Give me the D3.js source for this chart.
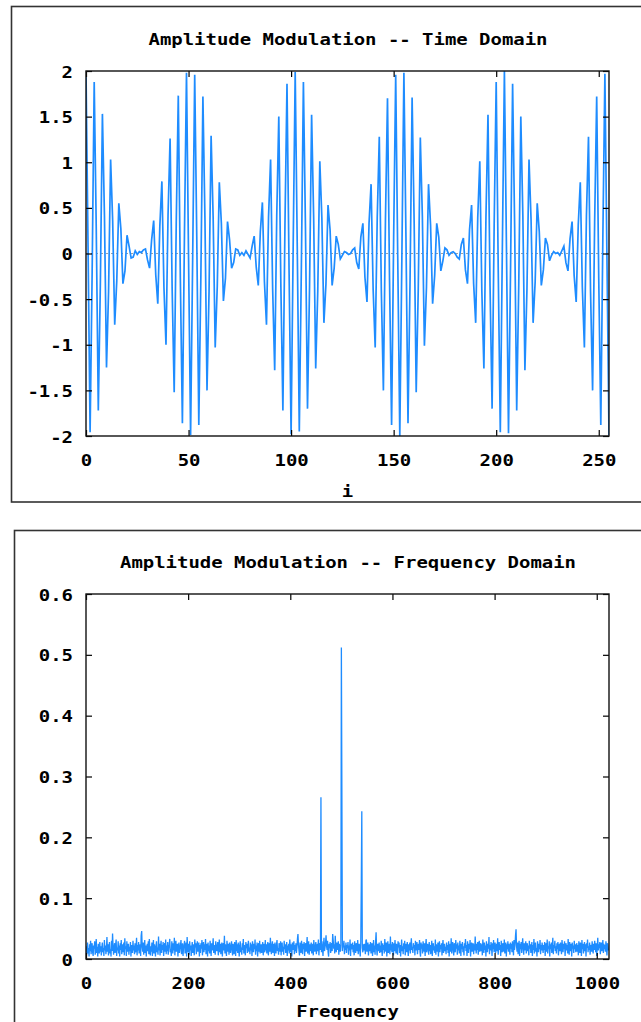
<!DOCTYPE html>
<html><head><meta charset="utf-8">
<script src="https://cdn.jsdelivr.net/npm/d3@7"></script>
<style>
body{margin:0;background:#fff}
text{font-family:"DejaVu Sans Mono","Liberation Mono",monospace;font-weight:bold;fill:#000}
</style>
</head><body>
<svg id="c" width="641" height="1022"></svg>
<script>
// ---------- data ----------
const timeSignal = [
 2.00, 0.07,-1.96,-0.20, 1.88, 0.27,-1.72,-0.33, 1.53, 0.41,-1.25,-0.42, 1.03, 0.36,-0.78,-0.30,
 0.55, 0.27,-0.33,-0.19, 0.20, 0.08,-0.05,-0.04, 0.03,-0.01, 0.02, 0.01, 0.04, 0.05,-0.07,-0.16,
 0.15, 0.36,-0.23,-0.55, 0.30, 0.79,-0.37,-1.00, 0.42, 1.26,-0.38,-1.52, 0.33, 1.73,-0.27,-1.86,
 0.20, 1.98,-0.04,-1.99,-0.07, 1.96, 0.19,-1.88,-0.26, 1.72, 0.37,-1.50,-0.41, 1.29, 0.39,-1.03,
-0.36, 0.78, 0.33,-0.52,-0.27, 0.35, 0.15,-0.16,-0.10, 0.05, 0.04,-0.02, 0.01,-0.02, 0.03,-0.01,
-0.05, 0.08, 0.19,-0.15,-0.35, 0.24, 0.56,-0.31,-0.78, 0.40, 1.03,-0.38,-1.28, 0.41, 1.50,-0.34,
-1.72, 0.30, 1.86,-0.17,-1.98, 0.05, 1.99, 0.08,-1.95,-0.16, 1.88, 0.29,-1.70,-0.36, 1.52, 0.39,
-1.26,-0.41, 1.01, 0.39,-0.76,-0.33, 0.53, 0.26,-0.35,-0.16, 0.19, 0.10,-0.06,-0.02, 0.02, 0.01,
-0.01, 0.00, 0.04, 0.06,-0.10,-0.17, 0.18, 0.33,-0.26,-0.53, 0.33, 0.76,-0.39,-1.03, 0.39, 1.28,
-0.41,-1.50, 0.36, 1.70,-0.29,-1.88, 0.17, 1.96,-0.05,-2.00,-0.06, 1.98, 0.18,-1.86,-0.29, 1.71,
 0.34,-1.52,-0.39, 1.27, 0.41,-1.01,-0.37, 0.76, 0.31,-0.55,-0.24, 0.33, 0.18,-0.19,-0.08, 0.06,
 0.04,-0.02, 0.01, 0.02, 0.00,-0.04,-0.06, 0.10, 0.17,-0.18,-0.33, 0.26, 0.53,-0.33,-0.76, 0.39,
 1.01,-0.41,-1.26, 0.39, 1.52,-0.36,-1.70, 0.29, 1.88,-0.19,-1.96, 0.05, 2.00, 0.07,-1.97,-0.17,
 1.86, 0.29,-1.72,-0.34, 1.50, 0.41,-1.28,-0.39, 1.03, 0.37,-0.76,-0.31, 0.55, 0.24,-0.35,-0.18,
 0.17, 0.10,-0.08,-0.02, 0.02, 0.00, 0.01,-0.02, 0.03, 0.08,-0.10,-0.19, 0.16, 0.35,-0.24,-0.53,
 0.31, 0.78,-0.37,-1.03, 0.41, 1.28,-0.41,-1.50, 0.34, 1.72,-0.27,-1.88, 0.17, 1.97,-0.05,-1.99
];
const timeXTicks = [0, 50, 100, 150, 200, 250];
const timeYTicks = [-2, -1.5, -1, -0.5, 0, 0.5, 1, 1.5, 2];

const freqNoise = [
.021,.006,.015,.027,.009,.018,.004,.024,.013,.030,.008,.019,.026,.011,.005,.022,.017,.029,.007,.014,.033,.010,.020,.004,.025,.016,.009,.028,.012,.021,.006,.019,
.027,.011,.018,.005,.031,.014,.022,.008,.017,.036,.012,.024,.006,.020,.028,.009,.016,.004,.030,.013,.042,.021,.007,.018,.026,.010,.023,.032,.005,.019,.014,.029,
.009,.022,.004,.026,.015,.031,.008,.019,.024,.011,.027,.006,.034,.016,.021,.005,.029,.012,.018,.025,.007,.020,.013,.028,.004,.023,.017,.010,.030,.014,.022,.008,
.026,.011,.019,.035,.006,.023,.014,.028,.009,.017,.024,.005,.038,.046,.020,.012,.027,.007,.016,.031,.010,.022,.004,.019,.025,.013,.029,.008,.033,.015,.006,.021,
.012,.027,.005,.018,.031,.009,.024,.016,.004,.021,.029,.011,.019,.007,.037,.014,.025,.006,.020,.030,.010,.023,.015,.028,.005,.017,.026,.012,.032,.008,.022,.013,
.028,.007,.019,.024,.033,.011,.016,.005,.029,.020,.009,.026,.014,.035,.006,.022,.030,.012,.018,.025,.004,.021,.027,.010,.017,.023,.031,.008,.015,.026,.005,.019,
.023,.030,.009,.016,.027,.004,.036,.020,.011,.025,.007,.029,.014,.022,.005,.018,.028,.010,.024,.015,.006,.032,.019,.026,.008,.021,.029,.012,.017,.027,.004,.023,
.010,.026,.017,.031,.006,.020,.028,.011,.024,.015,.033,.008,.019,.025,.004,.027,.013,.022,.009,.030,.018,.005,.026,.014,.021,.034,.010,.023,.016,.007,.029,.018,
.013,.022,.028,.006,.017,.032,.011,.025,.008,.019,.027,.004,.021,.026,.014,.038,.009,.024,.016,.005,.030,.020,.012,.025,.007,.027,.018,.010,.023,.029,.015,.006,
.025,.016,.008,.028,.020,.005,.031,.013,.024,.010,.027,.017,.004,.022,.029,.011,.019,.007,.026,.015,.033,.009,.023,.014,.006,.028,.018,.025,.010,.021,.030,.012,
.019,.008,.027,.014,.024,.005,.029,.020,.011,.025,.016,.032,.007,.022,.013,.027,.004,.018,.026,.012,.030,.009,.021,.024,.010,.017,.028,.006,.025,.019,.011,.031,
.014,.024,.009,.020,.028,.006,.017,.026,.012,.035,.016,.008,.023,.029,.010,.019,.025,.005,.027,.015,.009,.024,.031,.013,.018,.007,.026,.021,.012,.029,.006,.022,
.027,.012,.020,.007,.030,.016,.024,.010,.018,.028,.005,.022,.014,.025,.009,.032,.019,.011,.024,.004,.027,.015,.021,.029,.008,.023,.013,.026,.010,.018,.033,.041,
.023,.014,.006,.027,.018,.010,.030,.020,.008,.025,.016,.028,.005,.021,.026,.012,.022,.036,.009,.018,.029,.007,.024,.013,.020,.027,.009,.016,.025,.006,.031,.019,
.012,.022,.028,.008,.018,.025,.013,.032,.006,.020,.026,.015,.010,.011,.029,.018,.005,.023,.035,.013,.019,.027,.039,.021,.015,.030,.011,.004,.025,.018,.028,.010,
.020,.026,.013,.041,.031,.017,.024,.009,.038,.021,.011,.027,.015,.019,.029,.007,.025,.018,.012,.023,.016,.024,.013,.026,.019,.030,.008,.022,.015,.027,.010,.023,
.018,.028,.007,.022,.014,.032,.005,.025,.016,.020,.027,.011,.023,.006,.029,.018,.010,.026,.021,.013,.031,.008,.019,.025,.015,.004,.028,.020,.016,.018,.011,.024,
.014,.025,.019,.008,.030,.032,.012,.021,.027,.006,.018,.024,.013,.028,.009,.020,.026,.005,.016,.031,.011,.022,.007,.029,.044,.017,.006,.025,.013,.020,.027,.010,
.022,.011,.030,.018,.005,.026,.015,.023,.009,.033,.019,.012,.027,.004,.021,.029,.010,.017,.025,.008,.037,.014,.024,.011,.028,.019,.006,.026,.013,.031,.018,.009,
.025,.015,.007,.029,.019,.027,.010,.023,.004,.018,.032,.013,.021,.008,.026,.016,.030,.006,.020,.025,.011,.028,.017,.005,.024,.014,.027,.009,.022,.034,.015,.020,
.010,.026,.018,.023,.006,.030,.014,.021,.028,.008,.019,.025,.015,.031,.011,.004,.027,.017,.024,.009,.029,.020,.012,.026,.005,.022,.033,.011,.018,.025,.016,.007,
.028,.013,.023,.008,.019,.030,.005,.017,.026,.014,.021,.010,.032,.007,.024,.018,.012,.027,.004,.020,.029,.011,.023,.016,.026,.006,.021,.031,.010,.018,.025,.013,
.020,.008,.027,.015,.023,.010,.029,.004,.018,.025,.012,.034,.009,.021,.028,.015,.006,.026,.019,.011,.031,.017,.024,.007,.027,.014,.022,.009,.030,.019,.005,.025,
.016,.028,.011,.021,.006,.026,.018,.033,.013,.023,.005,.029,.020,.010,.025,.016,.031,.004,.022,.027,.012,.019,.026,.008,.024,.014,.037,.020,.009,.025,.015,.028,
.007,.022,.030,.012,.019,.026,.013,.024,.006,.032,.018,.010,.027,.015,.022,.004,.029,.020,.011,.025,.017,.036,.008,.023,.014,.028,.019,.005,.026,.016,.031,.011,
.021,.027,.010,.018,.025,.013,.034,.007,.020,.028,.015,.023,.005,.030,.018,.011,.026,.021,.012,.032,.009,.019,.027,.004,.024,.016,.029,.012,.025,.018,.007,.027,
.017,.025,.011,.029,.020,.006,.031,.015,.023,.039,.049,.021,.012,.027,.008,.019,.030,.005,.025,.016,.028,.010,.022,.034,.018,.007,.026,.014,.023,.029,.009,.020,
.026,.013,.022,.006,.030,.017,.024,.010,.019,.028,.005,.023,.015,.033,.009,.021,.027,.012,.018,.004,.029,.020,.011,.025,.016,.031,.008,.023,.014,.027,.019,.010,
.023,.015,.028,.005,.019,.026,.012,.032,.009,.021,.017,.029,.004,.024,.016,.027,.010,.020,.035,.008,.023,.018,.030,.013,.021,.009,.026,.016,.028,.006,.019,.025,
.013,.027,.018,.008,.031,.021,.011,.025,.016,.029,.005,.019,.026,.014,.023,.009,.033,.018,.007,.028,.020,.013,.025,.004,.027,.017,.022,.010,.030,.016,.024,.011,
.020,.026,.012,.023,.006,.029,.017,.010,.027,.021,.005,.031,.016,.025,.009,.019,.028,.013,.024,.004,.026,.018,.032,.011,.021,.015,.027,.007,.023,.020,.012,.029,
.017,.009,.025,.015,.030,.021,.011,.026,.005,.019,.035,.014,.024,.018,.028,.008,.022,.027,.013,.020,.031,.010,.025,.016,.023,.012,.029,.019,.006,.026,.021,.014
];
const peakBins   = [460, 500, 501, 539, 540];
const peakValues = [0.266, 0.512, 0.274, 0.125, 0.243];
const freqXTicks = [0, 200, 400, 600, 800, 1000];
const freqYTicks = [0, 0.1, 0.2, 0.3, 0.4, 0.5, 0.6];

const titles  = ["Amplitude Modulation -- Time Domain", "Amplitude Modulation -- Frequency Domain"];
const xTitles = ["i", "Frequency"];

// ---------- drawing ----------
const svg = d3.select("#c");
const CW = 11.4;          // character advance of the blocky bold font
const FS = 16;
const LINE = "#1e8cff";

function fitText(sel) {
  sel.attr("font-size", FS)
     .attr("textLength", function(){ return this.textContent.length * CW; })
     .attr("lengthAdjust", "spacingAndGlyphs");
}

// outer frames
svg.append("rect").attr("x", 11.5).attr("y", 6.5).attr("width", 700).attr("height", 495.5)
   .attr("fill", "none").attr("stroke", "#333").attr("stroke-width", 1.6);
svg.append("rect").attr("x", 14.5).attr("y", 530.5).attr("width", 700).attr("height", 600)
   .attr("fill", "none").attr("stroke", "#333").attr("stroke-width", 1.6);

function panel(cfg) {
  const {L, R, T, B, xDomain, yDomain, xTicks, yTicks, values, title, xTitle, titleY, xTitleY, zeroAxis, lw} = cfg;
  const x = d3.scaleLinear().domain(xDomain).range([L, R]);
  const y = d3.scaleLinear().domain(yDomain).range([B, T]);
  const g = svg.append("g");
  const cid = "clip" + Math.round(T);
  g.append("clipPath").attr("id", cid).append("rect")
    .attr("x", L).attr("y", T).attr("width", R - L).attr("height", B - T);

  if (zeroAxis) {
    g.append("line").attr("x1", L).attr("x2", R).attr("y1", y(0)).attr("y2", y(0))
      .attr("stroke", "#a0a0a0").attr("stroke-width", 1).attr("stroke-dasharray", "2,3");
  }

  const line = d3.line().x(d => x(d[0])).y(d => y(d[1]));
  g.append("path").datum(values).attr("d", line)
    .attr("fill", "none").attr("stroke", LINE).attr("stroke-width", lw)
    .attr("stroke-linejoin", "miter").attr("clip-path", `url(#${cid})`);

  const fmt = v => String(v);
  const axes = [
    [d3.axisLeft(y).tickValues(yTicks).tickFormat(fmt), `translate(${L},0)`, true],
    [d3.axisRight(y).tickValues(yTicks).tickFormat(""), `translate(${R},0)`, false],
    [d3.axisBottom(x).tickValues(xTicks).tickFormat(fmt), `translate(0,${B})`, true],
    [d3.axisTop(x).tickValues(xTicks).tickFormat(""), `translate(0,${T})`, false]
  ];
  axes.forEach(([ax, tr, lab], i) => {
    ax.tickSize(-6).tickPadding(0);
    const a = g.append("g").attr("transform", tr).call(ax);
    a.select(".domain").remove();
    a.selectAll(".tick line").attr("stroke", "#000").attr("stroke-width", 1.2);
    a.selectAll("text").attr("font-family", null);
    if (lab && i === 0) {
      a.selectAll("text").attr("x", -13).attr("dy", null).attr("y", 6).attr("text-anchor", "end").call(fitText);
    }
    if (lab && i === 2) {
      a.selectAll("text").attr("dy", null).attr("y", 30).attr("text-anchor", "middle").call(fitText);
    }
  });

  g.append("rect").attr("x", L).attr("y", T).attr("width", R - L).attr("height", B - T)
    .attr("fill", "none").attr("stroke", "#111").attr("stroke-width", 1.4);

  g.append("text").attr("x", (L + R) / 2 + 0.5).attr("y", titleY).attr("text-anchor", "middle")
    .text(title).call(fitText);
  g.append("text").attr("x", (L + R) / 2).attr("y", xTitleY).attr("text-anchor", "middle")
    .text(xTitle).call(fitText);
}

const timePoints = timeSignal.map((v, i) => [i, v]);
const freqPoints = freqNoise.map((v, i) => [i, v]);
peakBins.forEach((b, k) => { if (freqPoints[b]) freqPoints[b][1] = peakValues[k]; });

panel({L: 86, R: 609, T: 71, B: 436, xDomain: [0, 255], yDomain: [-2, 2],
  xTicks: timeXTicks, yTicks: timeYTicks, values: timePoints,
  title: titles[0], xTitle: xTitles[0], titleY: 45, xTitleY: 497, zeroAxis: true, lw: 1.7});

panel({L: 86, R: 609, T: 594, B: 959, xDomain: [0, 1024], yDomain: [0, 0.6],
  xTicks: freqXTicks, yTicks: freqYTicks, values: freqPoints,
  title: titles[1], xTitle: xTitles[1], titleY: 568, xTitleY: 1017, zeroAxis: false, lw: 1.3});
</script>
</body></html>
